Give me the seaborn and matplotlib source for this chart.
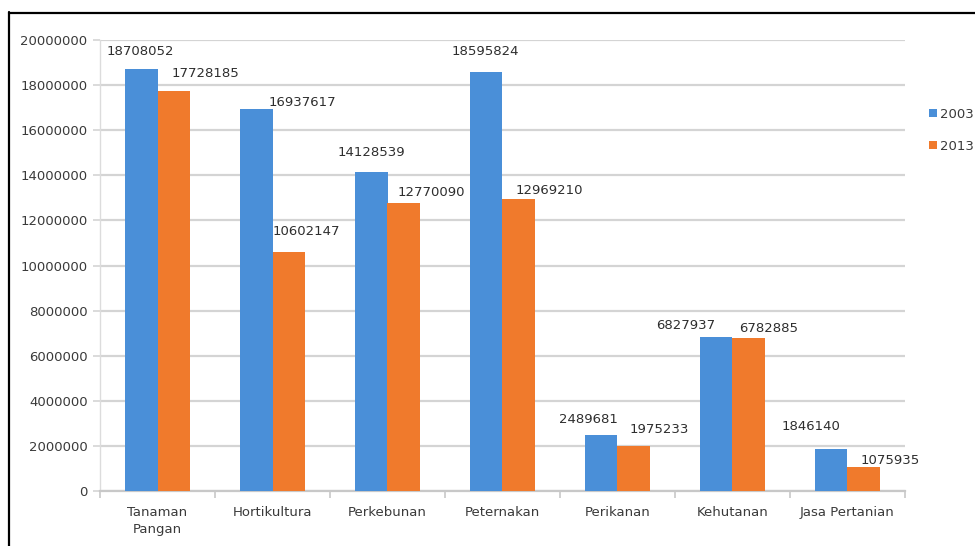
import matplotlib
matplotlib.use("Agg")
import matplotlib.pyplot as plt
from matplotlib.lines import Line2D
from matplotlib.patches import Patch
import numpy as np
import pandas as pd
import seaborn as sns

# Sectors and household counts per census year
categories = ["Tanaman\nPangan", "Hortikultura", "Perkebunan", "Peternakan",
              "Perikanan", "Kehutanan", "Jasa Pertanian"]
years = ["2003", "2013"]
values_2003 = [18708052, 16937617, 14128539, 18595824, 2489681, 6827937, 1846140]
values_2013 = [17728185, 10602147, 12770090, 12969210, 1975233, 6782885, 1075935]
y_ticks = [0, 2000000, 4000000, 6000000, 8000000, 10000000,
           12000000, 14000000, 16000000, 18000000, 20000000]

# Label nudges (pixels right, pixels up) from each bar's top centre
offsets_2003 = [(-1, 18), (46, 7), (0, 20), (-1, 20), (-13, 15), (-31, 12), (-20, 23)]
offsets_2013 = [(32, 18), (18, 20), (28, 11), (31, 8), (26, 17), (20, 10), (27, 6)]

colors = ["#4A8FD8", "#F07A2C"]

df = pd.DataFrame({
    "Sektor": categories * 2,
    "Nilai": values_2003 + values_2013,
    "Tahun": [years[0]] * len(categories) + [years[1]] * len(categories),
})

sns.set_theme(style="white")
plt.rcParams["font.family"] = ["DejaVu Sans"]

W, H = 975, 546
fig = plt.figure(figsize=(W / 100, H / 100), dpi=100)
ax = fig.add_axes([100 / W, 1 - 491 / H, 805 / W, 451 / H])

sns.barplot(data=df, x="Sektor", y="Nilai", hue="Tahun", palette=colors,
            width=0.56, gap=0, saturation=1, legend=False, errorbar=None,
            linewidth=0, edgecolor="none", ax=ax, zorder=3)

ax.set_ylim(0, 20000000)
ax.set_xlim(-0.5, len(categories) - 0.5)
ax.set_yticks(y_ticks)
ax.set_yticklabels([str(t) for t in y_ticks])
ax.set_xlabel("")
ax.set_ylabel("")

grid_c = "#d4d4d4"
ax.yaxis.grid(True, color=grid_c, linewidth=1.6, zorder=0)
ax.set_axisbelow(True)
for s in ["top", "right"]:
    ax.spines[s].set_visible(False)
ax.spines["left"].set_color("#dcdcdc")
ax.spines["left"].set_linewidth(1.0)
ax.spines["bottom"].set_color("#c8c8c8")
ax.spines["bottom"].set_linewidth(1.6)

ax.tick_params(axis="y", length=5, width=1.2, color=grid_c, pad=4,
               labelsize=9.5, labelcolor="#3a3a3a", left=True)
ax.tick_params(axis="x", which="major", length=0, pad=11,
               labelsize=9.5, labelcolor="#3a3a3a")
for lbl in ax.get_xticklabels():
    lbl.set_linespacing(1.35)
ax.set_xticks(np.arange(-0.5, len(categories), 1.0), minor=True)
ax.tick_params(axis="x", which="minor", length=5, width=1.2,
               color="#c8c8c8", bottom=True, direction="out")

# Value labels above each bar
px = 0.72
for cont, vals, offs in zip(ax.containers, [values_2003, values_2013],
                            [offsets_2003, offsets_2013]):
    for bar, v, (dx, dy) in zip(cont, vals, offs):
        ax.annotate(str(v), xy=(bar.get_x() + bar.get_width() / 2, v),
                    xytext=(dx * px, dy * px), textcoords="offset points",
                    ha="center", va="center", fontsize=9.5,
                    color="#2e2e2e", zorder=5)

# Legend at the right edge
handles = [Patch(facecolor=c, edgecolor="none") for c in colors]
fig.legend(handles, years, loc="upper left",
           bbox_to_anchor=(922 / W, 1 - 101 / H), frameon=False,
           fontsize=9.5, handlelength=0.6, handleheight=0.6,
           handletextpad=0.25, labelspacing=1.45, borderpad=0,
           labelcolor="#3a3a3a")

# Black frame lines along the left and top edge
fig.add_artist(Line2D([8.5 / W, 8.5 / W], [0, 1 - 12 / H], color="black",
                      linewidth=1.6, transform=fig.transFigure))
fig.add_artist(Line2D([8.5 / W, 1], [1 - 12.5 / H, 1 - 12.5 / H], color="black",
                      linewidth=1.6, transform=fig.transFigure))

fig.savefig("out.png", dpi=100, facecolor="white")
